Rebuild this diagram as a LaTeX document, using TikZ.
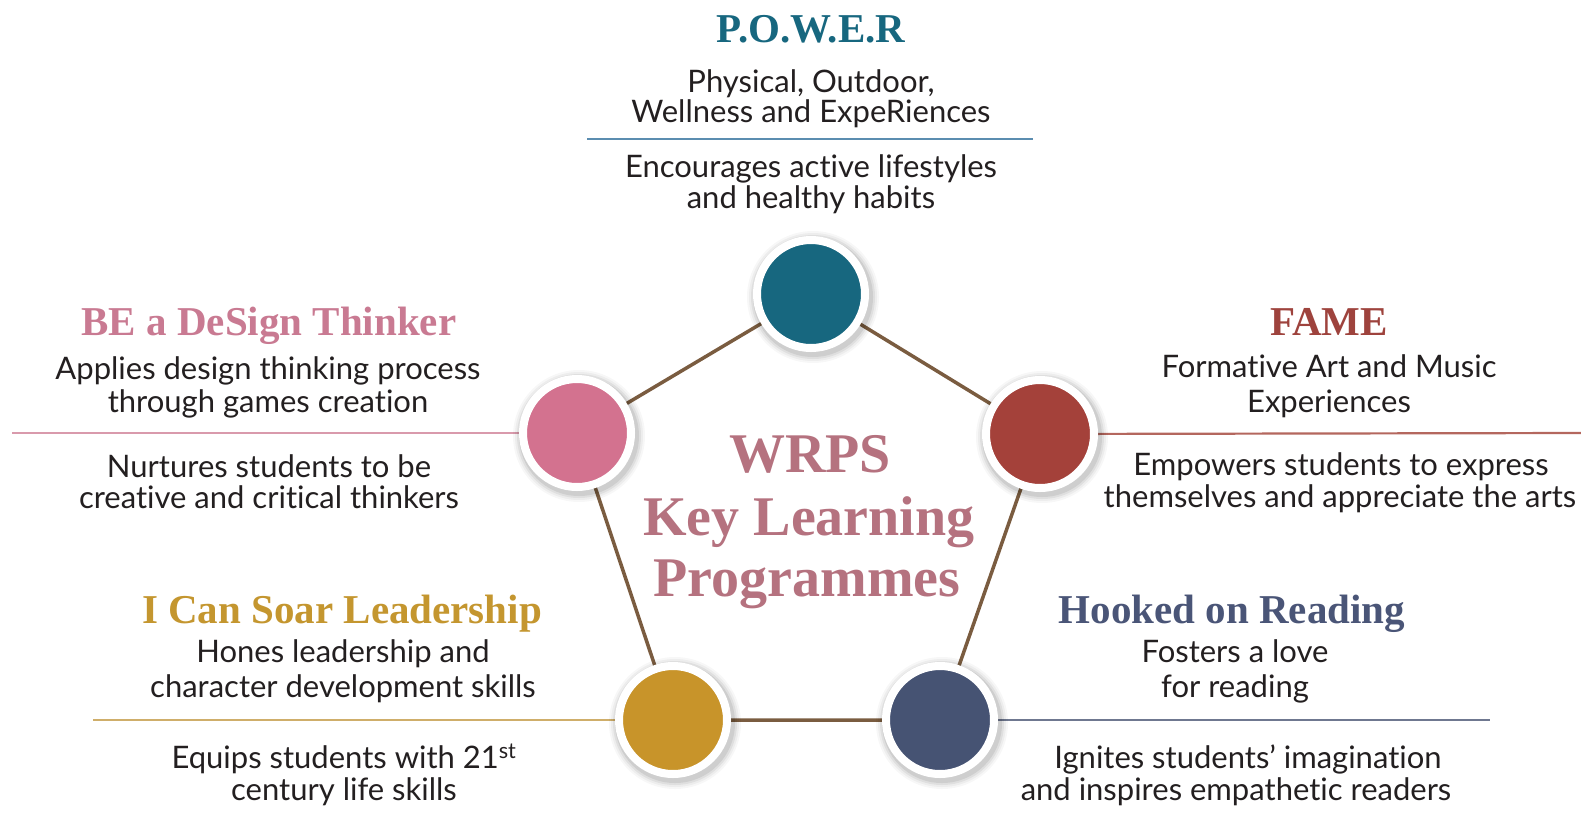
\documentclass[tikz,border=0pt]{standalone}
\usepackage{fontspec}
\setmainfont{Lato}[Ligatures={NoCommon,NoRare,NoContextual}]
\newfontfamily\headfont{Liberation Serif}
\usetikzlibrary{backgrounds}
\definecolor{teal}{HTML}{17677F}
\definecolor{tealline}{HTML}{5B8DB0}
\definecolor{pinkc}{HTML}{D3728F}
\definecolor{pinkt}{HTML}{C97A92}
\definecolor{pinkline}{HTML}{D99AAC}
\definecolor{redc}{HTML}{A4413A}
\definecolor{redt}{HTML}{9E433D}
\definecolor{redline}{HTML}{B4675E}
\definecolor{goldc}{HTML}{C8942A}
\definecolor{goldt}{HTML}{C4962F}
\definecolor{goldline}{HTML}{CFAE6A}
\definecolor{navyc}{HTML}{465373}
\definecolor{navyt}{HTML}{4A5577}
\definecolor{navyline}{HTML}{6F7890}
\definecolor{mauve}{HTML}{B5727F}
\definecolor{brownl}{HTML}{7A5C40}
\definecolor{txt}{HTML}{231F20}
\begin{document}
\begin{tikzpicture}[x=1pt,y=-1pt,
  body/.style={anchor=base, inner sep=0pt, text=txt, font=\fontsize{31}{34}\selectfont},
  head/.style={anchor=base, inner sep=0pt, font=\headfont\bfseries\fontsize{41}{45}\selectfont},
  ctitle/.style={anchor=base, inner sep=0pt, text=mauve, font=\headfont\bfseries\fontsize{56}{60}\selectfont},
  disc/.style={circle, minimum size=108pt, inner sep=0pt, draw=white, line width=8pt},
  rule/.style={line width=2.2pt},
  edge/.style={brownl, line width=3.5pt}]
\useasboundingbox (0,0) rectangle (1581,812);

% circles
\node[disc, fill=teal]  (pw) at (811,294) {};
\node[disc, fill=pinkc] (de) at (577,433) {};
\node[disc, fill=redc]  (fa) at (1040,434) {};
\node[disc, fill=goldc] (so) at (673,720) {};
\node[disc, fill=navyc] (ho) at (940,720) {};

% free ends of the rules
\coordinate (pwL) at (587,139);
\coordinate (pwR) at (1033,139);
\coordinate (deL) at (12,433);
\coordinate (faR) at (1581,433);
\coordinate (soL) at (93,720);
\coordinate (hoR) at (1490,720);

\begin{scope}[on background layer]
  \draw[edge] (pw.center) -- (de.center) -- (so.center) -- (ho.center) -- (fa.center) -- (pw.center);
  \draw[rule, tealline] (pwL) -- (pwR);
  \draw[rule, pinkline] (deL) -- (de.center);
  \draw[rule, redline] (fa.center) -- (faR);
  \draw[rule, goldline] (soL) -- (so.center);
  \draw[rule, navyline] (ho.center) -- (hoR);
  \foreach \c in {pw,de,fa,so,ho}{
    \foreach \r/\o in {66/0.03,64/0.04,62/0.06,60/0.08}{
      \fill[black, opacity=\o] ([shift={(2,3)}]\c.center) circle (\r);
    }
  }
\end{scope}

% centre title
\node[ctitle] (c1) at (810,472) {WRPS};
\node[ctitle] (c2) at (809,535) {Key Learning};
\node[ctitle] (c3) at (807,596) {Programmes};

% POWER
\node[head, text=teal] (pwt) at (811,42) {P.O.W.E.R};
\node[body] (pw1) at (811,92) {Physical, Outdoor,};
\node[body] (pw2) at (811,122) {Wellness and ExpeRiences};
\node[body] (pw3) at (811,177) {Encourages active lifestyles};
\node[body] (pw4) at (811,208) {and healthy habits};

% BE a DeSign Thinker
\node[head, text=pinkt] (det) at (269,335) {BE a DeSign Thinker};
\node[body] (de1) at (268,379) {Applies design thinking process};
\node[body] (de2) at (268,412) {through games creation};
\node[body] (de3) at (269,477) {Nurtures students to be};
\node[body] (de4) at (269,508) {creative and critical thinkers};

% FAME
\node[head, text=redt] (fat) at (1329,335) {FAME};
\node[body] (fa1) at (1329,377) {Formative Art and Music};
\node[body] (fa2) at (1329,412) {Experiences};
\node[body] (fa3) at (1341,475) {Empowers students to express};
\node[body] (fa4) at (1340,507) {themselves and appreciate the arts};

% I Can Soar Leadership
\node[head, text=goldt] (sot) at (342,623) {I Can Soar Leadership};
\node[body] (so1) at (343,662) {Hones leadership and};
\node[body] (so2) at (343,697) {character development skills};
\node[body] (so3) at (344,768) {Equips students with 21\textsuperscript{st}};
\node[body] (so4) at (344,800) {century life skills};

% Hooked on Reading
\node[head, text=navyt] (hot) at (1232,623) {Hooked on Reading};
\node[body] (ho1) at (1235,662) {Fosters a love};
\node[body] (ho2) at (1235,697) {for reading};
\node[body] (ho3) at (1248,768) {Ignites students’ imagination};
\node[body] (ho4) at (1236,800) {and inspires empathetic readers};
\end{tikzpicture}
\end{document}
